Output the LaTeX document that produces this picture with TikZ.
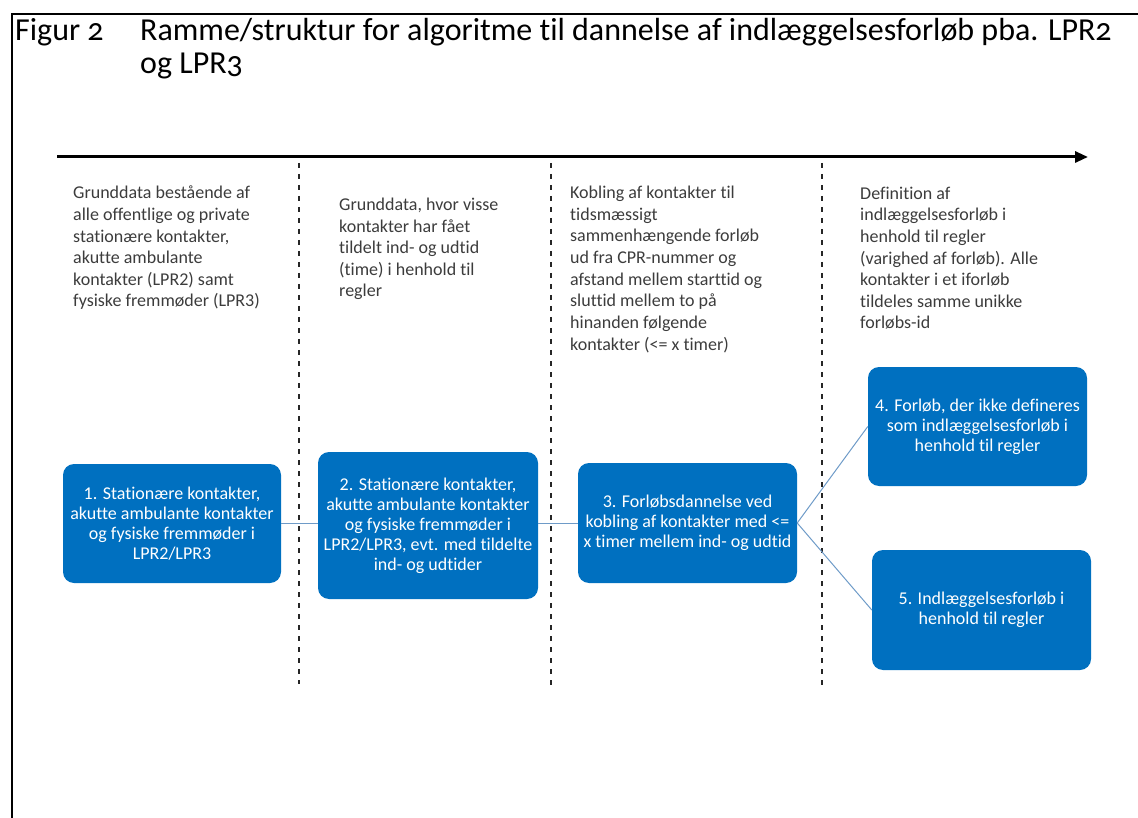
\documentclass[tikz,border=0pt]{standalone}
\usepackage{fontspec}
\setmainfont{Carlito}[Ligatures=NoCommon]
\newfontfamily\titlefont[Numbers=OldStyle,Ligatures=NoCommon]{Carlito}
\usetikzlibrary{arrows.meta}
\definecolor{boxblue}{RGB}{0,112,192}
\definecolor{linkblue}{RGB}{110,155,200}
\definecolor{txtgray}{RGB}{60,60,60}
\tikzset{
  frameline/.style={line width=2pt, black},
  titletext/.style={anchor=base west, inner sep=0pt, font=\titlefont\fontsize{32}{38}\selectfont},
  timeaxis/.style={line width=3pt, black, -{Triangle[length=13pt,width=11pt]}},
  divider/.style={line width=1.4pt, black!85, dash pattern=on 5pt off 6pt},
  coltext/.style={anchor=base west, inner sep=0pt, align=left, text=txtgray, font=\fontsize{18}{21.6}\selectfont},
  stepbox/.style={fill=boxblue, rounded corners=11pt, text=white, align=center, inner sep=0pt, font=\fontsize{18}{20}\selectfont},
  link/.style={linkblue, line width=1pt}
}
\begin{document}
\begin{tikzpicture}[x=1pt, y=-1pt]
\useasboundingbox (0,0) rectangle (1138,818);
% frame
\draw[frameline] (12,818) -- (12,14) -- (1138,14);
% title
\node[titletext] (fig) at (15,41) {Figur 2};
\node[titletext] (title1) at (140,41) {Ramme/struktur for algoritme til dannelse af indlæggelsesforløb pba. LPR2};
\node[titletext] (title2) at (140,74) {og LPR3};
% time axis
\coordinate (axs) at (57,157);
\coordinate (axe) at (1088,157);
\draw[timeaxis] (axs) -- (axe);
% dividers
\coordinate (d1t) at (299,163); \coordinate (d1b) at (299,684);
\coordinate (d2t) at (551,163); \coordinate (d2b) at (551,688);
\coordinate (d3t) at (822,163); \coordinate (d3b) at (822,690);
\draw[divider] (d1t) -- (d1b);
\draw[divider] (d2t) -- (d2b);
\draw[divider] (d3t) -- (d3b);
% column texts (anchored at baseline of last line)
\node[coltext] (c1) at (73,307) {Grunddata bestående af\\alle offentlige og private\\stationære kontakter,\\akutte ambulante\\kontakter (LPR2) samt\\fysiske fremmøder (LPR3)};
\node[coltext] (c2) at (339,297) {Grunddata, hvor visse\\kontakter har fået\\tildelt ind- og udtid\\(time) i henhold til\\regler};
\node[coltext] (c3) at (570,350) {Kobling af kontakter til\\tidsmæssigt\\sammenhængende forløb\\ud fra CPR-nummer og\\afstand mellem starttid og\\sluttid mellem to på\\hinanden følgende\\kontakter (<= x timer)};
\node[coltext] (c4) at (860,329) {Definition af\\indlæggelsesforløb i\\henhold til regler\\(varighed af forløb). Alle\\kontakter i et iforløb\\tildeles samme unikke\\forløbs-id};
% boxes
\node[stepbox, minimum width=218pt, minimum height=119pt] (b1) at (172,523.5) {1. Stationære kontakter,\\akutte ambulante kontakter\\og fysiske fremmøder i\\LPR2/LPR3};
\node[stepbox, minimum width=220pt, minimum height=147pt] (b2) at (428,525.5) {2. Stationære kontakter,\\akutte ambulante kontakter\\og fysiske fremmøder i\\LPR2/LPR3, evt. med tildelte\\ind- og udtider};
\node[stepbox, minimum width=219pt, minimum height=120pt] (b3) at (687.5,523) {3. Forløbsdannelse ved\\kobling af kontakter med <=\\x timer mellem ind- og udtid};
\node[stepbox, minimum width=219pt, minimum height=119pt] (b4) at (977.5,426.5) {4. Forløb, der ikke defineres\\som indlæggelsesforløb i\\henhold til regler};
\node[stepbox, minimum width=219pt, minimum height=120pt] (b5) at (981.5,610) {5. Indlæggelsesforløb i\\henhold til regler};
% links
\draw[link] (b1.east) -- (b2.west |- b1.east);
\draw[link] (b2.east |- b3.west) -- (b3.west);
\draw[link] (b3.east) -- (b4.west);
\draw[link] (b3.east) -- (b5.west);
\end{tikzpicture}
\end{document}
